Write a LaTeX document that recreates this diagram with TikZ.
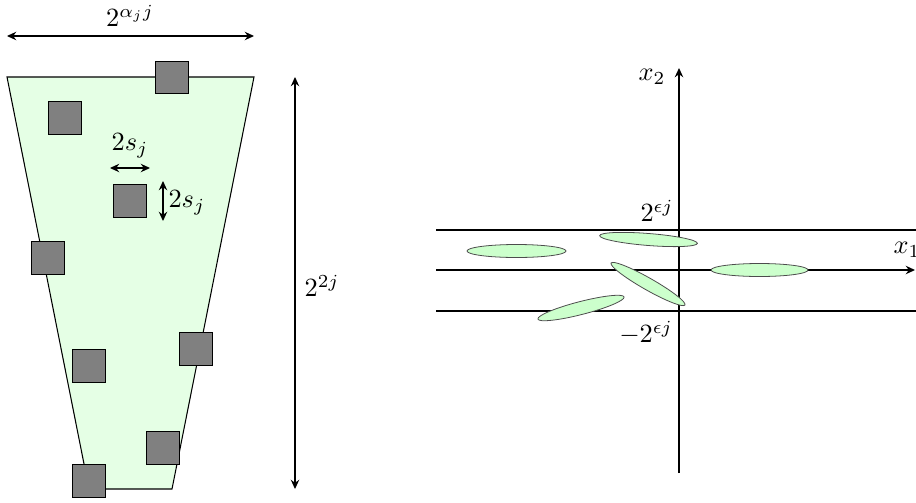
\documentclass[tikz,border=0pt]{standalone}
\usepackage{amsmath,amssymb}
\usepackage{xcolor}
\usepackage{tikz}
\usetikzlibrary{arrows.meta}

\begin{document}
\begin{tikzpicture}[
  x=0.38pt, y=-0.38pt,
  every node/.style={inner sep=0pt},
  dim/.style={{Stealth[length=3.5pt,width=3.2pt]}-{Stealth[length=3.5pt,width=3.2pt]}},
  axis/.style={-{Stealth[length=3.5pt,width=3.2pt]}, line width=0.6pt},
  cell/.style={draw, fill=gray, minimum size=12.5pt},
  blob/.style={draw=black!70, fill=green!20, line width=0.3pt}]
  \useasboundingbox (0,0) rectangle (916,502);

  % left: the box and its cells
  \coordinate (tl) at (7,77);
  \coordinate (tr) at (254,77);
  \coordinate (br) at (172,489);
  \coordinate (bl) at (89,489);
  \draw[fill=green!10] (tl) -- (tr) -- (br) -- (bl) -- cycle;
  \foreach \px/\py [count=\i] in {172/77.5, 65/118, 130/201, 48/258,
                                   89/366, 196/349, 163/448, 89/481}
    \node[cell] (sq\i) at (\px,\py) {};

  % sizes
  \coordinate (wl) at (7,36);
  \coordinate (wr) at (254,36);
  \draw[dim] (wl) -- (wr);
  \node (wlab) at (130,16) {$2^{\alpha_j j}$};

  \coordinate (sl) at (110,168);
  \coordinate (sr) at (150,168);
  \draw[dim] (sl) -- (sr);
  \node (slab) at (130,146) {$2s_j$};

  \coordinate (st) at (163,181);
  \coordinate (sb) at (163,221);
  \draw[dim] (st) -- (sb);
  \node[anchor=west] (svlab) at (168,203) {$2s_j$};

  \coordinate (ht) at (295,77);
  \coordinate (hb) at (295,489);
  \draw[dim] (ht) -- (hb);
  \node (hlab) at (322,286) {$2^{2j}$};

  % right: axes and the strip
  \coordinate (o) at (679,270);
  \draw[axis] (679,473) -- (679,68) coordinate (ytip);
  \draw[axis] (436,270) -- (915,270) coordinate (xtip);
  \node (x2) at (652,77) {$x_2$};
  \node[anchor=west] (x1) at (893,250) {$x_1$};

  \draw (436,230) -- (916,230);
  \draw (436,311) -- (916,311);
  \node (up) at (657,211) {$2^{\epsilon j}$};
  \node (lo) at (646,333) {$-2^{\epsilon j}$};

  % pieces
  \draw[blob] (516.5,251) ellipse [x radius=49.5, y radius=6.5];
  \draw[blob, rotate around={-4.5:(648.5,239.5)}] (648.5,239.5) ellipse [x radius=49, y radius=6];
  \draw[blob, rotate around={-29.6:(648,284)}] (648,284) ellipse [x radius=42.5, y radius=6];
  \draw[blob, rotate around={14.4:(581,308)}] (581,308) ellipse [x radius=44.5, y radius=6.5];
  \draw[blob] (759.5,270) ellipse [x radius=48.5, y radius=6.5];
\end{tikzpicture}
\end{document}
